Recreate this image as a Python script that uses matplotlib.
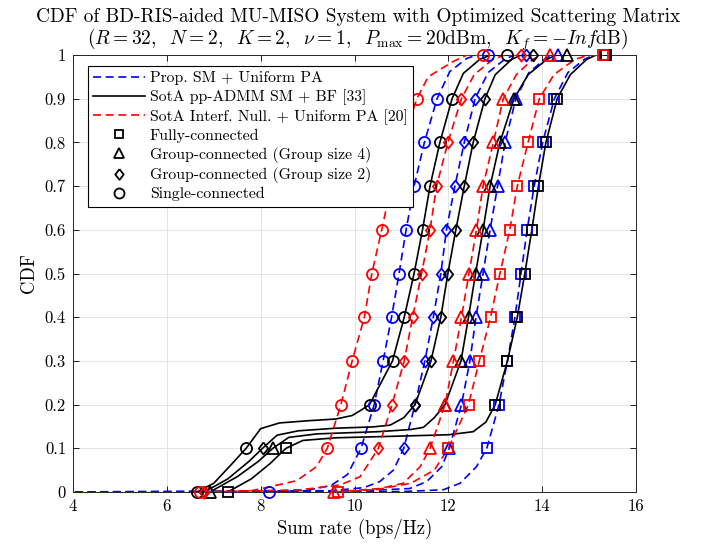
import matplotlib
matplotlib.use('Agg')
import matplotlib.pyplot as plt
from matplotlib.lines import Line2D

plt.rcParams['font.family'] = 'serif'
plt.rcParams['font.serif'] = ['cmr10', 'DejaVu Serif']
plt.rcParams['mathtext.fontset'] = 'cm'
plt.rcParams['axes.formatter.use_mathtext'] = True
plt.rcParams['axes.unicode_minus'] = False

# ---------------- data ----------------
cdf_levels = [0.0, 0.1, 0.2, 0.3, 0.4, 0.5, 0.6, 0.7, 0.8, 0.9, 1.0]

# Prop. SM + Uniform PA (blue dashed)
prop_fc_x = [3.5, 11.0, 11.89, 12.25, 12.60, 12.82, 13.08, 13.26, 13.42, 13.55, 13.68, 13.83, 14.01, 14.26, 14.55, 14.90, 15.10, 15.33]
prop_fc_y = [0, 0.001, 0.005, 0.02, 0.058, 0.1, 0.2, 0.3, 0.4, 0.5, 0.6, 0.7, 0.8, 0.9, 0.96, 0.99, 1.0, 1.0]
prop_g4_x = [3.5, 10.0, 11.18, 11.54, 11.86, 12.02, 12.28, 12.46, 12.59, 12.74, 12.89, 13.05, 13.21, 13.44, 13.72, 14.05, 14.20, 14.34]
prop_g4_y = [0, 0.002, 0.008, 0.024, 0.058, 0.1, 0.2, 0.3, 0.4, 0.5, 0.6, 0.7, 0.8, 0.9, 0.96, 0.99, 1.0, 1.0]
prop_g2_x = [3.5, 9.5, 10.2, 10.54, 10.83, 11.05, 11.29, 11.50, 11.68, 11.84, 11.96, 12.14, 12.34, 12.57, 12.85, 13.20, 13.40, 13.65]
prop_g2_y = [0, 0.003, 0.01, 0.024, 0.05, 0.1, 0.2, 0.3, 0.4, 0.5, 0.6, 0.7, 0.8, 0.9, 0.96, 0.99, 1.0, 1.0]
prop_sc_x = [8.18, 9.0, 9.5, 9.85, 10.14, 10.42, 10.61, 10.79, 10.95, 11.10, 11.27, 11.49, 11.76, 12.03, 12.39, 12.60, 12.84]
prop_sc_y = [0, 0.004, 0.015, 0.04, 0.1, 0.2, 0.3, 0.4, 0.5, 0.6, 0.7, 0.8, 0.9, 0.962, 0.992, 1.0, 1.0]

# SotA pp-ADMM SM + BF [33] (black solid)
admm_fc_x = [7.30, 7.8, 8.2, 8.54, 8.9, 9.6, 11.0, 12.0, 12.53, 12.8, 13.0, 13.26, 13.47, 13.63, 13.78, 13.92, 14.08, 14.32, 14.6, 14.95, 15.15, 15.37]
admm_fc_y = [0, 0.03, 0.065, 0.1, 0.118, 0.124, 0.128, 0.131, 0.138, 0.16, 0.2, 0.3, 0.4, 0.5, 0.6, 0.7, 0.8, 0.9, 0.955, 0.99, 1.0, 1.0]
admm_g4_x = [6.92, 7.5, 7.95, 8.26, 8.6, 9.2, 10.5, 11.2, 11.47, 11.7, 11.93, 12.27, 12.43, 12.58, 12.74, 12.89, 13.10, 13.40, 13.7, 14.1, 14.3, 14.52]
admm_g4_y = [0, 0.035, 0.07, 0.1, 0.125, 0.133, 0.138, 0.143, 0.148, 0.17, 0.2, 0.3, 0.4, 0.5, 0.6, 0.7, 0.8, 0.9, 0.955, 0.99, 1.0, 1.0]
admm_g2_x = [6.80, 7.3, 7.75, 8.04, 8.35, 8.8, 9.6, 10.4, 10.76, 11.05, 11.29, 11.63, 11.84, 11.99, 12.16, 12.34, 12.53, 12.78, 13.0, 13.35, 13.55, 13.80]
admm_g2_y = [0, 0.03, 0.07, 0.1, 0.13, 0.14, 0.146, 0.149, 0.153, 0.17, 0.2, 0.3, 0.4, 0.5, 0.6, 0.7, 0.8, 0.9, 0.955, 0.99, 1.0, 1.0]
admm_sc_x = [6.64, 7.0, 7.35, 7.69, 8.0, 8.4, 9.0, 9.6, 9.95, 10.15, 10.32, 10.81, 11.06, 11.27, 11.45, 11.61, 11.82, 12.08, 12.32, 12.67, 12.9, 13.26]
admm_sc_y = [0, 0.02, 0.06, 0.1, 0.145, 0.158, 0.163, 0.167, 0.175, 0.188, 0.2, 0.3, 0.4, 0.5, 0.6, 0.7, 0.8, 0.9, 0.958, 0.99, 1.0, 1.0]

# SotA Interf. Null. + Uniform PA [20] (red dashed)
null_fc_x = [9.65, 10.5, 11.2, 11.7, 12.0, 12.43, 12.66, 12.90, 13.10, 13.31, 13.47, 13.70, 13.94, 14.25, 14.7, 15.0, 15.30]
null_fc_y = [0, 0.006, 0.02, 0.05, 0.1, 0.2, 0.3, 0.4, 0.5, 0.6, 0.7, 0.8, 0.9, 0.955, 0.99, 1.0, 1.0]
null_g4_x = [9.56, 10.54, 11.04, 11.40, 11.61, 11.93, 12.11, 12.28, 12.44, 12.60, 12.74, 12.96, 13.17, 13.45, 13.8, 14.0, 14.17]
null_g4_y = [0, 0.008, 0.02, 0.058, 0.1, 0.2, 0.3, 0.4, 0.5, 0.6, 0.7, 0.8, 0.9, 0.955, 0.99, 1.0, 1.0]
null_g2_x = [6.80, 8.84, 9.69, 10.12, 10.51, 10.80, 11.06, 11.24, 11.43, 11.61, 11.75, 11.99, 12.28, 12.55, 12.95, 13.2, 13.55]
null_g2_y = [0, 0.005, 0.016, 0.035, 0.1, 0.2, 0.3, 0.4, 0.5, 0.6, 0.7, 0.8, 0.9, 0.955, 0.99, 1.0, 1.0]
null_sc_x = [6.70, 7.8, 8.2, 8.77, 9.19, 9.42, 9.71, 9.95, 10.21, 10.37, 10.58, 10.78, 11.02, 11.33, 11.57, 12.10, 12.40, 12.73]
null_sc_y = [0, 0.003, 0.012, 0.026, 0.058, 0.1, 0.2, 0.3, 0.4, 0.5, 0.6, 0.7, 0.8, 0.9, 0.95, 0.985, 1.0, 1.0]

method_labels = ['Prop. SM + Uniform PA', 'SotA pp-ADMM SM + BF [33]',
                 'SotA Interf. Null. + Uniform PA [20]']
arch_labels = ['Fully-connected', 'Group-connected (Group size 4)',
               'Group-connected (Group size 2)', 'Single-connected']
x_ticks = [4, 6, 8, 10, 12, 14, 16]
y_ticks = [0, 0.1, 0.2, 0.3, 0.4, 0.5, 0.6, 0.7, 0.8, 0.9, 1.0]
y_tick_labels = ['0', '0.1', '0.2', '0.3', '0.4', '0.5', '0.6', '0.7', '0.8', '0.9', '1']

# ---------------- styling ----------------
diamond = [(0, 1), (0.78, 0), (0, -1), (-0.78, 0), (0, 1)]
markers = ['s', '^', diamond, 'o']
marker_sizes = [7, 8.5, 8.6, 8]
dash = (0, (4.8, 2.8))
methods = [
    dict(color='#0000ff', ls=dash,
         curves=[(prop_fc_x, prop_fc_y), (prop_g4_x, prop_g4_y), (prop_g2_x, prop_g2_y), (prop_sc_x, prop_sc_y)]),
    dict(color='black', ls='-',
         curves=[(admm_fc_x, admm_fc_y), (admm_g4_x, admm_g4_y), (admm_g2_x, admm_g2_y), (admm_sc_x, admm_sc_y)]),
    dict(color='#ff0000', ls=dash,
         curves=[(null_fc_x, null_fc_y), (null_g4_x, null_g4_y), (null_g2_x, null_g2_y), (null_sc_x, null_sc_y)]),
]

fig = plt.figure(figsize=(7.12, 5.46), dpi=100)
ax = fig.add_axes([73 / 712, 54 / 546, 563 / 712, 437 / 546])

lw = 1.2
for m in methods:
    for (xs, ys), mk, ms in zip(m['curves'], markers, marker_sizes):
        ax.plot(xs, ys, color=m['color'], linestyle=m['ls'], linewidth=lw, zorder=3)
        mx, my = [], []
        for lev in cdf_levels:
            cand = [x for x, y in zip(xs, ys) if abs(y - lev) < 1e-9]
            if cand and max(cand) >= x_ticks[0]:
                mx.append(max(cand))
                my.append(lev)
        ax.plot(mx, my, linestyle='none', marker=mk, markersize=ms,
                markerfacecolor='none', markeredgecolor=m['color'],
                markeredgewidth=1.3, clip_on=False, zorder=4)

ax.set_xlim(x_ticks[0], x_ticks[-1])
ax.set_ylim(0, 1)
ax.set_xticks(x_ticks)
ax.set_xticklabels([str(t) for t in x_ticks])
ax.set_yticks(y_ticks)
ax.set_yticklabels(y_tick_labels)
ax.tick_params(direction='in', top=True, right=True, length=4, width=0.6,
               labelsize=12, pad=5)
ax.grid(True, color='#dedede', linewidth=0.6)
ax.set_axisbelow(True)
for s in ax.spines.values():
    s.set_linewidth(0.7)
    s.set_color('#262626')

ax.set_xlabel('Sum rate (bps/Hz)', fontsize=13.5, labelpad=3)
ax.set_ylabel('CDF', fontsize=13.5, labelpad=5)

fig.text(0.5025, 1 - 17 / 546, 'CDF of BD-RIS-aided MU-MISO System with Optimized Scattering Matrix',
         ha='center', va='center', fontsize=13.9)
fig.text(0.5025, 1 - 40 / 546,
         r'$(R=32,\ \;N=2,\ \;K=2,\ \;\nu=1,\ \;P_{\rm max}=20{\rm dBm},\ \;K_f=-Inf{\rm dB})$',
         ha='center', va='center', fontsize=14)

handles = [
    Line2D([], [], color='#0000ff', linestyle=dash, linewidth=lw),
    Line2D([], [], color='black', linestyle='-', linewidth=lw),
    Line2D([], [], color='#ff0000', linestyle=dash, linewidth=lw),
]
for mk, ms in zip(markers, marker_sizes):
    handles.append(Line2D([], [], color='black', linestyle='none', marker=mk,
                          markersize=ms * 0.9,
                          markerfacecolor='none', markeredgewidth=1.3))
leg = ax.legend(handles, method_labels + arch_labels, loc='upper left',
                bbox_to_anchor=(15 / 563, (492 - 66) / 437), borderaxespad=0,
                fontsize=11.3, frameon=True, fancybox=False, framealpha=1,
                edgecolor='black', handlelength=3.3, handletextpad=0.3,
                labelspacing=0.26, borderpad=0.33)
leg.get_frame().set_linewidth(0.8)
leg.set_zorder(10)

fig.savefig('out.png', dpi=100)
